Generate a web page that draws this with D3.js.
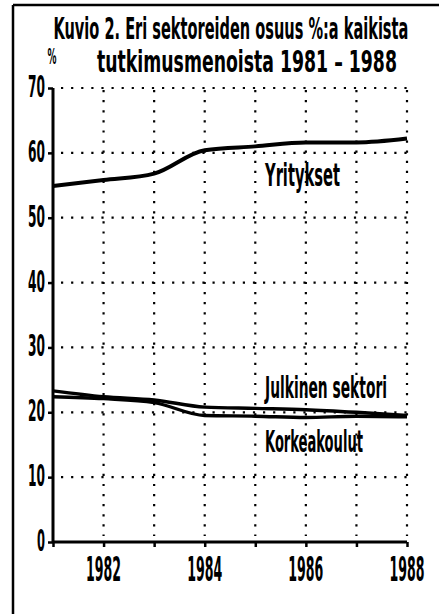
<!DOCTYPE html>
<html>
<head>
<meta charset="utf-8">
<script src="https://cdn.jsdelivr.net/npm/d3@7"></script>
<style>
body { margin: 0; background: #fff; }
text { font-family: "Liberation Sans Narrow", "DejaVu Sans Condensed", sans-serif; font-weight: bold; fill: #000; }
</style>
</head>
<body>
<div id="chart"></div>
<script>
// size of SVG
var w = 439;
var h = 614;

// data
var years = [1981, 1982, 1983, 1984, 1985, 1986, 1987, 1988];
var yritykset = [54.9, 55.8, 56.8, 60.4, 61.0, 61.6, 61.6, 62.2];
var julkinen = [23.3, 22.4, 21.9, 20.8, 20.6, 20.4, 20.0, 19.5];
var korkeakoulut = [22.4, 22.1, 21.5, 19.5, 19.4, 19.2, 19.4, 19.3];
var yTicks = [0, 10, 20, 30, 40, 50, 60, 70];
var xTickLabels = [1982, 1984, 1986, 1988];
var titleLines = ["Kuvio 2. Eri sektoreiden osuus %:a kaikista", "tutkimusmenoista 1981 \u2013 1988"];

var svg = d3.select("#chart")
  .append("svg")
  .attr("width", w)
  .attr("height", h)
  .attr("xmlns", "http://www.w3.org/2000/svg");

// squeeze a text horizontally so it spans exactly `width` pixels
function fitText(g, str, px, py, size, width, anchor) {
  var t = g.append("text").style("font-size", size + "px").text(str);
  var nat = t.node().getComputedTextLength();
  var sx = width / nat;
  var x0 = anchor === "middle" ? px - width / 2 : anchor === "end" ? px - width : px;
  t.attr("transform", "translate(" + x0 + "," + py + ") scale(" + sx + ",1)");
  return t;
}

// frame (only left and top edges show)
svg.append("line").attr("x1", 13).attr("y1", 5).attr("x2", 13).attr("y2", h)
  .attr("stroke", "#000").attr("stroke-width", 2.5);
svg.append("line").attr("x1", 13).attr("y1", 5).attr("x2", w).attr("y2", 5)
  .attr("stroke", "#000").attr("stroke-width", 2.5);

var x = d3.scaleLinear().domain([1981, 1988]).range([53, 407]);
var y = d3.scaleLinear().domain([0, 70]).range([542, 88]);

// title
fitText(svg, titleLines[0], 231, 39, 30, 355, "middle");
fitText(svg, titleLines[1], 247, 72, 30, 300, "middle");
// unit
fitText(svg, "%", 52, 64, 22, 9, "middle");

// dotted grid
var grid = svg.append("g").attr("stroke", "#000").attr("stroke-width", 2.2)
  .attr("stroke-dasharray", "2.2,7.9");
grid.selectAll(".hg").data(yTicks.slice(1)).enter().append("line")
  .attr("class", "hg")
  .attr("x1", x(1981) + 8).attr("x2", x(1988) + 1)
  .attr("y1", function(d) { return y(d); })
  .attr("y2", function(d) { return y(d); });
grid.selectAll(".vg").data(years.slice(1)).enter().append("line")
  .attr("class", "vg")
  .attr("x1", function(d) { return x(d); })
  .attr("x2", function(d) { return x(d); })
  .attr("y1", y(70) + 2).attr("y2", y(0) - 6);

// axes (labels are drawn separately so they can be squeezed)
var yAxis = svg.append("g").attr("transform", "translate(" + x(1981) + ",0)")
  .call(d3.axisLeft(y).tickValues(yTicks).tickSize(5).tickFormat(""));
var xAxis = svg.append("g").attr("transform", "translate(0," + y(0) + ")")
  .call(d3.axisBottom(x).tickValues(years).tickSize(5).tickFormat(""));

yAxis.select(".domain").attr("stroke", "#000").attr("stroke-width", 3)
  .attr("d", "M0," + y(70) + "V" + y(0));
xAxis.select(".domain").attr("stroke", "#000").attr("stroke-width", 3)
  .attr("d", "M" + x(1981) + ",0H" + x(1988));
svg.selectAll(".tick line").attr("stroke", "#000").attr("stroke-width", 2.5);

yTicks.forEach(function(d) {
  fitText(svg, String(d), 45, y(d) + 9, 31, d === 0 ? 8 : 17, "end");
});
xTickLabels.forEach(function(d) {
  fitText(svg, String(d), x(d), 581, 34, 35, "middle");
});

// lines
var line = d3.line()
  .x(function(d, i) { return x(years[i]); })
  .y(function(d) { return y(d); })
  .curve(d3.curveMonotoneX);

[[yritykset, 4], [julkinen, 3.4], [korkeakoulut, 3.4]].forEach(function(s) {
  svg.append("path").attr("d", line(s[0]))
    .attr("fill", "none").attr("stroke", "#000").attr("stroke-width", s[1]);
});

// series labels
fitText(svg, "Yritykset", 265, 186, 32, 75, "start");
fitText(svg, "Julkinen sektori", 265, 398, 30, 122, "start");
fitText(svg, "Korkeakoulut", 265, 452, 30, 98, "start");
</script>
</body>
</html>
